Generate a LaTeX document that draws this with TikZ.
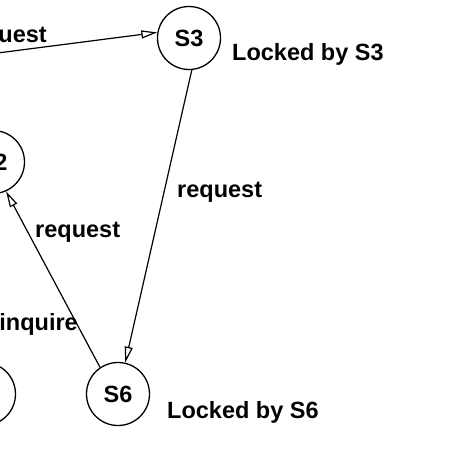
\documentclass[tikz,border=0pt]{standalone}
\usepackage{fontspec}
\setmainfont{Liberation Sans}
\usetikzlibrary{arrows.meta}
\begin{document}
\begin{tikzpicture}[x=1pt,y=-1pt,
  state/.style={draw,circle,line width=1.3pt,minimum size=63pt,inner sep=0pt,font=\fontsize{23.5}{26}\selectfont\bfseries},
  lbl/.style={inner sep=0pt,font=\fontsize{23.5}{26}\selectfont\bfseries},
  msg/.style={line width=1.2pt,-{Triangle[open,length=16pt,width=8pt]}}]
\useasboundingbox (0,0) rectangle (474,474);
\clip (0,0) rectangle (474,474);
\fill[white] (0,0) rectangle (474,474);
\node[state] (s3) at (189,38) {S3};
\node[state] (s6) at (118,394) {S6};
\node[state] (s2) at (-7,162) {S2};
\node[state] (s5) at (-16,394) {};
\coordinate (s1) at (-80,63);
\draw[msg] (s1) -- (s3.170);
\draw[msg] (s3.-85) -- (s6.77);
\draw[msg] (s6.124) -- (s2.-66);
\node[lbl,anchor=base east] (l1) at (47,42) {request};
\node[lbl,anchor=base west] (l2) at (232,60) {Locked by S3};
\node[lbl,anchor=base west] (l3) at (177,197) {request};
\node[lbl,anchor=base west] (l4) at (35,237) {request};
\node[lbl,anchor=base east] (l5) at (78,330) {inquire};
\node[lbl,anchor=base west] (l6) at (167,418) {Locked by S6};
\end{tikzpicture}
\end{document}
